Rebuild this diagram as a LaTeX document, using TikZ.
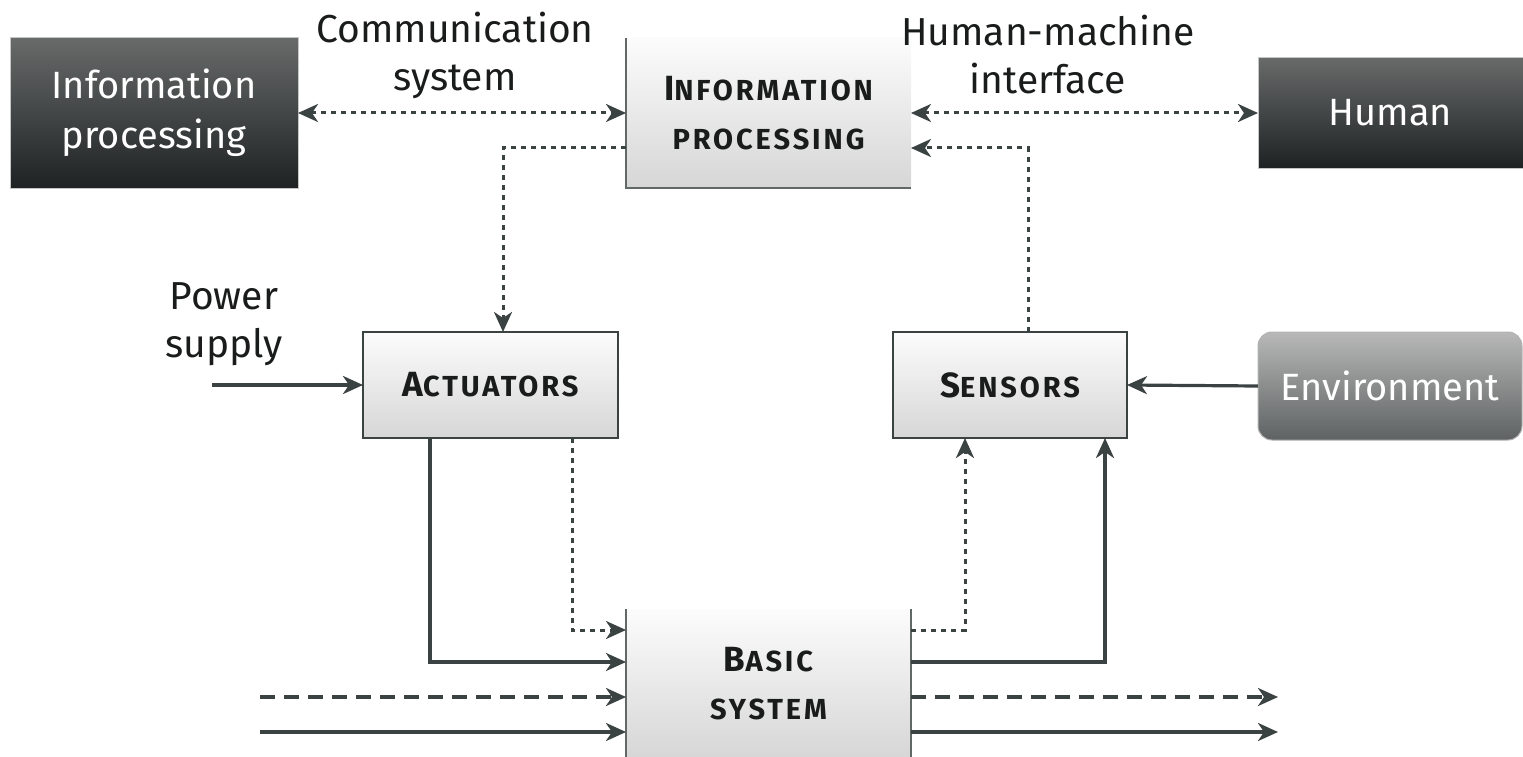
\documentclass[tikz,border=0pt]{standalone}
\usepackage{fontspec}
\setmainfont{Fira Sans}
\newfontfamily\scfont[LetterSpace=10]{Fira Sans}
\usetikzlibrary{arrows.meta}
\definecolor{lc}{HTML}{3A4242}
\definecolor{darktop}{HTML}{686A6A}
\definecolor{darkbot}{HTML}{1E2222}
\definecolor{envtop}{HTML}{B8B8B8}
\definecolor{envbot}{HTML}{5E6262}
\definecolor{lighttop}{HTML}{FCFCFC}
\definecolor{lightbot}{HTML}{D6D6D6}
\definecolor{txt}{HTML}{1A1C1C}
\newcommand\capA[1]{{\scfont\bfseries\fontsize{35}{46}\selectfont #1}}
\newcommand\capB[1]{{\scfont\bfseries\fontsize{29}{46}\selectfont #1}}
\tikzset{
  base/.style={rectangle, inner sep=0pt, outer sep=0pt, align=center},
  darkbox/.style={base, top color=darktop, bottom color=darkbot, draw=gray!45, line width=1pt, text=white, font=\fontsize{38}{50}\selectfont},
  envbox/.style={base, top color=envtop, bottom color=envbot, draw=gray!60, line width=1pt, rounded corners=14pt, text=white, font=\fontsize{38}{50}\selectfont},
  lightbox/.style={base, top color=lighttop, bottom color=lightbot, draw=lc, line width=2pt, text=txt},
  softbox/.style={base, top color=lighttop, bottom color=lightbot, text=txt},
  lbl/.style={align=center, text=txt, font=\fontsize{39}{48}\selectfont},
  tip/.style={-{Stealth[length=20pt, width=18pt, inset=6pt]}},
  wire/.style={line width=3.2pt, draw=lc, tip},
  dwire/.style={wire, dash pattern=on 5pt off 5pt, line width=3pt},
  dashwire/.style={wire, dash pattern=on 15pt off 9pt},
  both/.style={{Stealth[length=20pt, width=18pt, inset=6pt]}-{Stealth[length=20pt, width=18pt, inset=6pt]}},
  edgeline/.style={draw=lc!80, line width=2pt}
}
\begin{document}
\begin{tikzpicture}[x=1pt, y=-1pt]
\useasboundingbox (0,0) rectangle (1523,757);

% boxes
\node[darkbox, minimum width=288pt, minimum height=150pt] (ipl) at (154,113) {Information\\processing};
\node[softbox, minimum width=285pt, minimum height=150pt, font=\fontsize{29}{49}\selectfont] (ip) at (768.5,113)
  {\capA{I}\capB{NFORMATION}\\\capB{PROCESSING}};
\draw[edgeline] (ip.north west) -- (ip.south west) -- (ip.south east);
\node[darkbox, minimum width=265pt, minimum height=110pt] (hum) at (1390.5,113) {Human};
\node[lightbox, minimum width=255pt, minimum height=106pt] (act) at (490.5,385) {\capA{A}\capB{CTUATORS}};
\node[lightbox, minimum width=234pt, minimum height=106pt] (sen) at (1010,385) {\capA{S}\capB{ENSORS}};
\node[envbox, minimum width=264pt, minimum height=108pt] (env) at (1390,386) {Environment};
\node[softbox, minimum width=285pt, minimum height=150pt, font=\fontsize{29}{48}\selectfont] (bs) at (768.5,684)
  {\capA{B}\capB{ASIC}\\\capB{SYSTEM}};
\draw[edgeline] (bs.north west) -- (bs.south west);
\draw[edgeline] (bs.north east) -- (bs.south east);

% labels
\node[lbl] (lcom) at (455,55) {Communication\\system};
\node[lbl] (lhmi) at (1048,55) {Human-machine\\interface};
\node[lbl] (lpow) at (224,324) {Power\\supply};

% free ends
\coordinate (pw) at (212,385);
\coordinate (inA) at (260,697);
\coordinate (inB) at (260,732);
\coordinate (outA) at (1278,697);
\coordinate (outB) at (1278,732);

% connectors
\draw[dwire, both] (ipl.east) -- (ip.west);
\draw[dwire, both] (ip.east) -- (hum.west);
\draw[dwire] ([yshift=-35pt]ip.west) -| ([xshift=12.5pt]act.north);
\draw[dwire] ([xshift=18pt]sen.north) |- ([yshift=-35pt]ip.east);
\draw[wire] (pw) -- (act.west);
\draw[wire] (env.west) -- (sen.east);
\draw[wire] ([xshift=-60.5pt]act.south) |- ([yshift=22pt]bs.west);
\draw[dwire] ([xshift=81.5pt]act.south) |- ([yshift=54pt]bs.west);
\draw[dashwire] (inA) -- ([yshift=-13pt]bs.west);
\draw[wire] (inB) -- ([yshift=-48pt]bs.west);
\draw[dwire] ([yshift=54pt]bs.east) -| ([xshift=-45pt]sen.south);
\draw[wire] ([yshift=22pt]bs.east) -| ([xshift=95pt]sen.south);
\draw[dashwire] ([yshift=-13pt]bs.east) -- (outA);
\draw[wire] ([yshift=-48pt]bs.east) -- (outB);
\end{tikzpicture}
\end{document}
